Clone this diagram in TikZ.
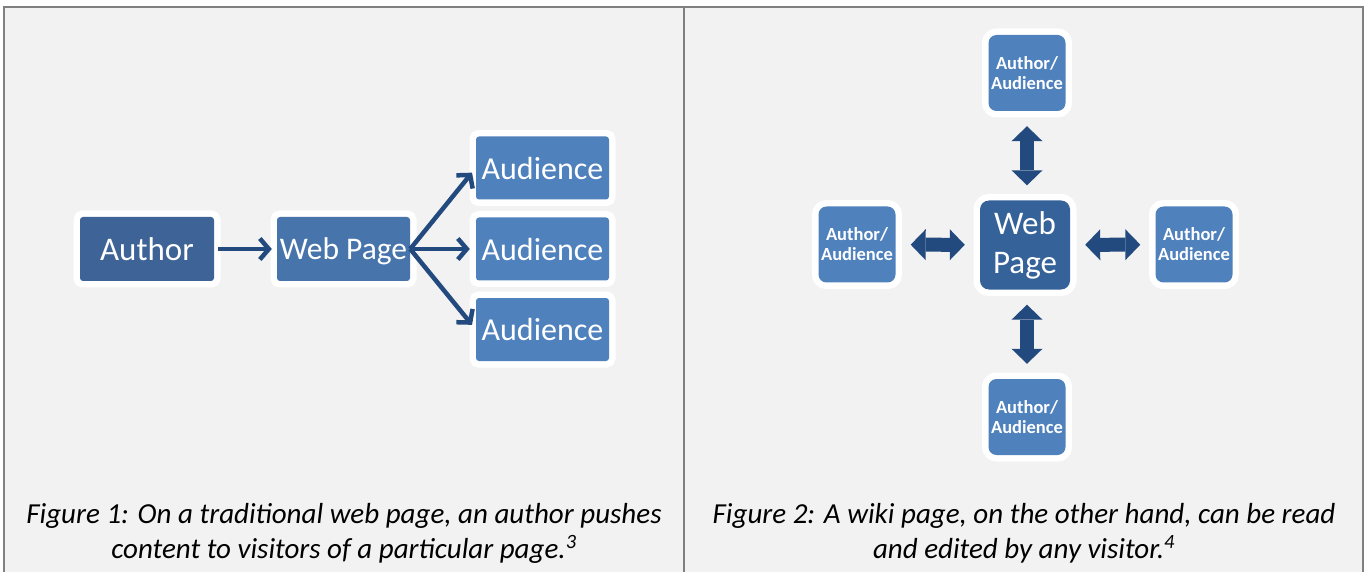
\documentclass[tikz,border=0pt]{standalone}
\usepackage{fontspec}
\setmainfont{Carlito}
\usetikzlibrary{arrows.meta}
\definecolor{cellgray}{HTML}{F2F2F2}
\definecolor{rulegray}{HTML}{808080}
\definecolor{boxblue}{HTML}{4F81BD}
\definecolor{pageblue}{HTML}{4874AC}
\definecolor{authorblue}{HTML}{3E6497}
\definecolor{wikiblue}{HTML}{36629A}
\definecolor{arrowblue}{HTML}{234A7E}
\newcommand{\boxfont}{\fontsize{32}{38}\selectfont}
\newcommand{\smallboxfont}{\fontsize{18.5}{20}\selectfont\bfseries}
\newcommand{\capfont}{\fontsize{29}{35}\selectfont\itshape}

\begin{document}
\begin{tikzpicture}[x=1pt,y=-1pt]
  \tikzstyle{bluebox}=[
       rectangle,
       rounded corners=3pt,
       fill=boxblue,
       text=white,
       inner sep=0pt,
       align=center,
       preaction={draw=white, line width=13pt}]
  \tikzstyle{flowbox}=[bluebox,
       minimum width=133pt,
       minimum height=63pt,
       text depth=0pt,
       font=\boxfont]
  \tikzstyle{wikibox}=[bluebox,
       rounded corners=8pt,
       minimum width=77pt,
       minimum height=76pt,
       font=\smallboxfont]
  \tikzstyle{pushline}=[draw=arrowblue, line width=4.5pt,
       -{Straight Barb[length=9pt,width=21pt]}]
  \tikzstyle{shareline}=[draw=arrowblue, line width=14pt,
       {Triangle[length=15pt,width=31pt,line width=0pt]}-{Triangle[length=15pt,width=31pt,line width=0pt]},
       shorten <=15pt, shorten >=15pt]
  \tikzstyle{caption}=[anchor=base, inner sep=0pt, font=\capfont]

  \useasboundingbox (0,0) rectangle (1366,572);
  % table cells
  \fill[cellgray] (4,7) rectangle (1363,572);
  \draw[rulegray, line width=1.5pt] (4,572) -- (4,7) -- (1363,7) -- (1363,572);
  \draw[rulegray, line width=1.5pt] (684,7) -- (684,572);

  % Figure 1
  \node[flowbox, fill=authorblue, minimum width=134pt, minimum height=64pt, font=\fontsize{33}{38}\selectfont]
    (author) at (147,249) {Author};
  \node[flowbox, fill=pageblue, minimum height=64pt, font=\fontsize{31.5}{38}\selectfont]
    (webpage) at (343.5,249) {Web Page};
  \foreach \i/\y in {1/168, 2/249, 3/329.5}
    \node[flowbox] (audience\i) at (542.5,\y) {Audience};
  \draw[pushline, shorten <=4pt, shorten >=5pt] (author) -- (webpage);
  \foreach \i in {1,2,3}
    \draw[pushline, shorten >=6pt] (webpage.east) -- (audience\i.west);

  % Figure 2
  \node[bluebox, fill=wikiblue, rounded corners=9pt, minimum width=90pt, minimum height=89pt,
        font=\fontsize{33}{39}\selectfont]
    (wikipage) at (1025,245) {Web\\Page};
  \node[wikibox] (top) at (1027,73) {Author/\\Audience};
  \node[wikibox] (left) at (857,244.5) {Author/\\Audience};
  \node[wikibox] (right) at (1194,244.5) {Author/\\Audience};
  \node[wikibox] (bottom) at (1027,417) {Author/\\Audience};
  \draw[shareline] (top) -- (top |- wikipage.north);
  \draw[shareline] (bottom) -- (bottom |- wikipage.south);
  \draw[shareline] (left) -- (wikipage);
  \draw[shareline] (right) -- (wikipage);

  % captions
  \node[caption] (cap1a) at (344,523) {Figure 1: On a traditional web page, an author pushes};
  \node[caption] (cap1b) at (344,558) {content to visitors of a particular page.\textsuperscript{3}};
  \node[caption] (cap2a) at (1024,523) {Figure 2: A wiki page, on the other hand, can be read};
  \node[caption] (cap2b) at (1024,558) {and edited by any visitor.\textsuperscript{4}};
\end{tikzpicture}
\end{document}
